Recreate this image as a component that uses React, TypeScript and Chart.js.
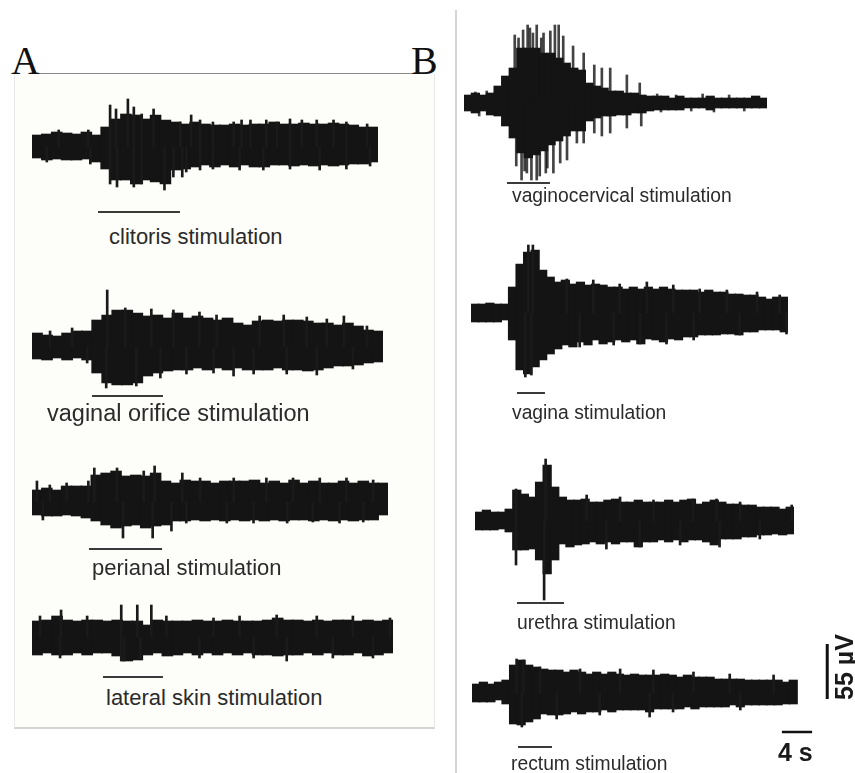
import React, { useEffect, useRef } from "react";
import { Chart, registerables } from "chart.js";
Chart.register(...registerables);

// ---------------- DATA (envelope amplitudes in µV per 1-s bin) ----------------
const traceLabels = [
  "clitoris stimulation",
  "vaginal orifice stimulation",
  "perianal stimulation",
  "lateral skin stimulation",
  "vaginocervical stimulation",
  "vagina stimulation",
  "urethra stimulation",
  "rectum stimulation",
];

const clitorisTop = [12,13,15,14,13,15,12,20,28,33,32,28,32,27,25,23,25,23,22,22,23,22,23,23,25,23,23,24,23,23,24,23,22,20,20];
const clitorisBottom = [-11,-13,-12,-13,-13,-12,-15,-22,-33,-33,-37,-33,-35,-37,-23,-22,-20,-18,-20,-18,-20,-18,-20,-20,-18,-18,-19,-18,-19,-18,-19,-18,-17,-17,-15];
const clitorisSpikeTimes = [7.9,8.5,9.7,10.3,11.1,12.3,16.1,22.1,26.1,31.8,7.9,8.6,10.3,11.1,13.4,14.3,15.2,
  2.7,5.7,15.0,17.0,18.3,20.4,21.2,23.7,24.8,27.3,28.8,30.5,33.9,
  1.5,5.9,15.6,17.0,18.3,21.0,23.4,26.1,29.1,31.8,34.2];
const clitorisSpikeValues = [42,38,48,40,33,38,32,27,28,25,-37,-40,-40,-37,-43,-30,-30,
  17,17,25,27,25,25,27,27,25,27,27,27,23,
  -15,-17,-25,-23,-22,-23,-23,-22,-23,-22,-19];
const clitorisStim = [6.68, 14.97];

const orificeTop = [14,12,11,14,16,16,27,32,37,37,34,31,32,29,34,29,31,29,27,29,24,22,26,27,26,27,27,26,24,24,22,24,21,17,16];
const orificeBottom = [-12,-13,-11,-13,-11,-13,-26,-36,-38,-38,-36,-29,-26,-24,-23,-23,-21,-23,-21,-23,-21,-23,-23,-23,-21,-23,-23,-24,-23,-21,-19,-19,-18,-16,-15];
const orificeSpikeTimes = [7.5,9.3,14.1,31.1,7.4,10.4,20.1,
  1.8,4.0,11.9,16.7,18.4,22.7,25.1,27.4,29.4,33.4,
  5.5,12.8,15.4,18.1,22.1,25.4,28.4,32.0];
const orificeSpikeValues = [57,39,37,31,-41,-39,-29,
  16,19,38,35,32,31,32,30,28,21,
  -16,-31,-27,-26,-27,-27,-28,-22];
const orificeStim = [5.98, 13.06];

const perianalTop = [12,14,12,16,16,16,27,29,31,26,27,26,29,21,19,22,21,21,19,21,21,21,22,19,21,19,22,19,21,19,19,21,19,21,19,19];
const perianalBottom = [-13,-14,-14,-13,-14,-16,-19,-23,-26,-24,-23,-26,-24,-23,-19,-19,-18,-19,-18,-19,-18,-19,-18,-19,-18,-19,-18,-18,-19,-18,-19,-18,-19,-18,-18,-13];
const perianalSpikeTimes = [0.5,5.7,6.3,8.6,11.3,12.4,15.2,9.2,12.2,14.1,
  1.8,3.5,17.0,20.4,23.7,26.4,29.1,31.8,34.5,
  1.1,15.6,19.7,22.4,25.8,28.4,31.1,33.5];
const perianalSpikeValues = [21,21,34,34,31,36,29,-36,-36,-29,
  17,19,24,24,24,24,24,24,22,
  -18,-21,-21,-21,-21,-20,-21,-20];
const perianalStim = [5.76, 13.15];

const lateralTop = [16,17,21,17,16,17,17,16,17,16,16,12,17,16,16,16,17,16,16,17,16,16,16,17,19,17,17,16,17,16,17,17,16,17,16,17];
const lateralBottom = [-18,-16,-18,-18,-16,-18,-16,-16,-19,-24,-23,-18,-16,-19,-18,-16,-18,-16,-18,-16,-18,-16,-18,-18,-19,-18,-18,-16,-18,-16,-18,-18,-16,-19,-18,-16];
const lateralSpikeTimes = [2.9,8.9,10.5,11.9,8.9,9.2,25.4,
  0.8,5.5,13.4,18.1,20.7,24.4,28.4,32.0,35.7,
  2.8,10.8,16.7,22.1,30.0,34.0];
const lateralSpikeValues = [27,32,32,32,-24,-24,-24,
  21,21,21,19,21,22,21,21,19,
  -21,-21,-21,-21,-21,-21];
const lateralStim = [7.08, 13.06];

const cervixTop = [8,10,8,10,17,27,35,55,55,55,50,50,45,40,35,33,20,17,15,12,12,10,10,8,7,7,7,5,7,5,5,5,7,5,5,5,5,5,7,5];
const cervixBottom = [-8,-10,-8,-12,-13,-23,-35,-50,-55,-52,-48,-42,-38,-33,-28,-28,-18,-15,-13,-13,-12,-12,-10,-10,-8,-7,-7,-7,-7,-5,-5,-5,-7,-5,-5,-5,-5,-5,-5,-5];
const cervixSpikeTimes = [6.7,7.2,7.8,8.4,8.7,9.1,9.6,10.2,10.5,11.4,12.0,12.5,13.1,14.4,15.8,17.2,18.2,19.3,21.5,23.2,
  6.9,7.6,8.0,8.3,8.9,9.6,10.0,10.8,11.0,11.8,12.7,13.6,14.9,15.8,17.2,18.2,19.3,21.5,23.4,
  1.5,3.0,25.5,28.0,31.5,35.0,2.0,26.0,30.0,33.0,37.0];
const cervixSpikeValues = [68,65,73,78,75,70,78,65,70,72,78,78,67,57,50,38,35,35,28,20,
  -63,-77,-68,-70,-77,-77,-73,-70,-65,-70,-60,-57,-40,-40,-30,-33,-30,-25,-23,
  11,12,9,8,9,8,-13,-9,-8,-9,-8];
const cervixStim = [5.68, 11.35];

const vaginaTop = [9,9,10,9,9,26,49,61,63,43,36,31,33,29,31,28,29,28,26,26,24,26,24,26,24,26,24,23,23,23,21,23,21,21,19,19,18,18,16,14,16,16];
const vaginaBottom = [-9,-9,-9,-9,-7,-27,-57,-61,-54,-47,-41,-36,-32,-34,-29,-32,-27,-31,-29,-27,-29,-27,-31,-26,-27,-29,-26,-27,-24,-24,-22,-22,-22,-21,-21,-22,-19,-19,-17,-17,-17,-19];
const vaginaSpikeTimes = [7.6,8.2,7.2,8.0,
  12.7,16.2,19.7,23.3,26.8,30.3,33.9,37.9,40.9,
  14.4,18.9,22.4,25.9,29.5,35.6,41.8];
const vaginaSpikeValues = [68,68,-64,-62,
  34,33,29,31,28,24,23,21,18,
  -34,-32,-31,-31,-27,-22,-21];
const vaginaStim = [6.09, 9.8];

const urethraTop = [9,11,9,9,12,31,27,24,39,56,34,24,21,21,22,19,19,21,22,19,19,21,19,19,19,21,19,21,22,17,19,21,19,17,17,16,16,14,14,14,12,14];
const urethraBottom = [-9,-9,-9,-8,-11,-29,-29,-28,-39,-53,-39,-23,-26,-24,-23,-21,-23,-21,-23,-21,-21,-26,-21,-21,-19,-21,-19,-21,-19,-19,-21,-24,-18,-18,-18,-16,-16,-14,-14,-13,-14,-13];
const urethraSpikeTimes = [5.4,9.3,5.4,9.1,32.2,
  14.7,19.1,23.5,28.7,31.8,34.9,41.7,
  17.3,21.7,27.0,37.5];
const urethraSpikeValues = [32,62,-44,-79,-26,
  26,24,21,22,22,19,16,
  -28,-26,-24,-18];
const urethraStim = [5.53, 11.72];

const rectumTop = [9,11,9,11,13,28,33,28,26,24,23,23,21,23,21,19,21,19,21,19,18,19,18,18,18,19,18,16,18,16,16,16,14,14,14,14,13,13,13,13,13,11,13];
const rectumBottom = [-9,-9,-9,-7,-11,-31,-32,-29,-26,-21,-22,-22,-21,-19,-21,-19,-19,-17,-19,-17,-17,-17,-17,-19,-16,-16,-16,-16,-14,-16,-14,-14,-14,-14,-12,-14,-12,-12,-12,-12,-12,-11,-11];
const rectumSpikeTimes = [5.9,6.8,6.6,23.5,
  9.0,14.3,19.6,24.0,29.3,34.1,39.9,
  11.2,16.9,26.6,35.5];
const rectumSpikeValues = [34,33,-34,-24,
  26,24,24,23,21,19,18,
  -26,-22,-19,-17];
const rectumStim = [6.09, 10.58];

const scaleBarSeconds = 4;
const scaleBarMicroVolts = 55;

// ---------------- LAYOUT (positions / sizes / styles) ----------------
type Layout = {
  left: number; cy: number; width: number; canvasWidth?: number;
  yMax: number; yMin: number; stimY: number;
  labelX: number; labelY: number; fontSize: number; spikeColor: string;
};
const layouts: Layout[] = [
  { left: 32, cy: 147, width: 346, yMax: 55, yMin: -72, stimY: -65, labelX: 109, labelY: 237, fontSize: 22, spikeColor: "#1a1a1a" },
  { left: 32, cy: 347, width: 351, yMax: 62, yMin: -55, stimY: -49, labelX: 47, labelY: 413, fontSize: 23.5, spikeColor: "#1a1a1a" },
  { left: 32, cy: 502, width: 356, yMax: 42, yMin: -53, stimY: -47, labelX: 92, labelY: 568, fontSize: 22, spikeColor: "#1a1a1a" },
  { left: 32, cy: 637, width: 361, yMax: 38, yMin: -46, stimY: -40, labelX: 106, labelY: 698, fontSize: 22, spikeColor: "#1a1a1a" },
  { left: 464, cy: 103, width: 303, yMax: 84, yMin: -86, stimY: -80, labelX: 512, labelY: 196, fontSize: 19.3, spikeColor: "rgba(20,20,20,0.8)" },
  { left: 471, cy: 313, width: 317, yMax: 72, yMin: -86, stimY: -80, labelX: 512, labelY: 413, fontSize: 19.3, spikeColor: "#1a1a1a" },
  { left: 475, cy: 521, width: 319, yMax: 66, yMin: -88, stimY: -82, labelX: 517, labelY: 623, fontSize: 19.3, spikeColor: "#1a1a1a" },
  { left: 472, cy: 693, width: 325, canvasWidth: 360, yMax: 54, yMin: -60, stimY: -54, labelX: 511, labelY: 764, fontSize: 19.3, spikeColor: "#1a1a1a" },
];

const traces = [
  { top: clitorisTop, bottom: clitorisBottom, spikeT: clitorisSpikeTimes, spikeV: clitorisSpikeValues, stim: clitorisStim },
  { top: orificeTop, bottom: orificeBottom, spikeT: orificeSpikeTimes, spikeV: orificeSpikeValues, stim: orificeStim },
  { top: perianalTop, bottom: perianalBottom, spikeT: perianalSpikeTimes, spikeV: perianalSpikeValues, stim: perianalStim },
  { top: lateralTop, bottom: lateralBottom, spikeT: lateralSpikeTimes, spikeV: lateralSpikeValues, stim: lateralStim },
  { top: cervixTop, bottom: cervixBottom, spikeT: cervixSpikeTimes, spikeV: cervixSpikeValues, stim: cervixStim },
  { top: vaginaTop, bottom: vaginaBottom, spikeT: vaginaSpikeTimes, spikeV: vaginaSpikeValues, stim: vaginaStim },
  { top: urethraTop, bottom: urethraBottom, spikeT: urethraSpikeTimes, spikeV: urethraSpikeValues, stim: urethraStim },
  { top: rectumTop, bottom: rectumBottom, spikeT: rectumSpikeTimes, spikeV: rectumSpikeValues, stim: rectumStim },
];

const SANS = '"Liberation Sans", Arial, Helvetica, sans-serif';

function Trace({ idx }: { idx: number }) {
  const ref = useRef<HTMLCanvasElement>(null);
  const L = layouts[idx];
  const T = traces[idx];
  const cw = L.canvasWidth ?? L.width;
  const ch = L.yMax - L.yMin;
  useEffect(() => {
    if (!ref.current) return;
    const n = T.top.length;
    const pps = L.width / n;
    const xMax = cw / pps;
    const datasets: any[] = [
      {
        type: "bar",
        data: T.top.map((hi, i) => ({ x: i + 0.5, y: [T.bottom[i], hi] })),
        backgroundColor: "#141414",
        barThickness: pps + 1,
        grouped: false,
        borderWidth: 0,
        order: 3,
      },
      {
        type: "bar",
        data: T.spikeT.map((t, k) => ({ x: t, y: [0, T.spikeV[k]] })),
        backgroundColor: L.spikeColor,
        barThickness: 2,
        grouped: false,
        borderWidth: 0,
        order: 2,
      },
      {
        type: "line",
        data: [{ x: T.stim[0], y: L.stimY }, { x: T.stim[1], y: L.stimY }],
        borderColor: "#3a3a3a",
        borderWidth: 2,
        pointRadius: 0,
        order: 1,
      },
    ];
    if (idx === 7) {
      const barEnd = 45.0;
      const vx = 47.0;
      datasets.push({
        type: "line",
        data: [{ x: barEnd - scaleBarSeconds, y: -39 }, { x: barEnd, y: -39 }],
        borderColor: "#111",
        borderWidth: 2.5,
        pointRadius: 0,
      });
      datasets.push({
        type: "line",
        data: [{ x: vx, y: -6 }, { x: vx, y: -6 + scaleBarMicroVolts }],
        borderColor: "#111",
        borderWidth: 3,
        pointRadius: 0,
      });
    }
    const chart = new Chart(ref.current, {
      type: "bar",
      data: { datasets },
      options: {
        animation: false,
        responsive: false,
        maintainAspectRatio: false,
        devicePixelRatio: 1,
        layout: { padding: 0 },
        plugins: { legend: { display: false }, tooltip: { enabled: false } },
        scales: {
          x: { type: "linear", min: 0, max: xMax, display: false, offset: false },
          y: { type: "linear", min: L.yMin, max: L.yMax, display: false },
        },
      } as any,
    });
    return () => chart.destroy();
  }, []);
  return (
    <>
      <canvas
        ref={ref}
        width={cw}
        height={ch}
        style={{ position: "absolute", left: L.left, top: L.cy - L.yMax, width: cw, height: ch }}
      />
      <div
        style={{
          position: "absolute",
          left: L.labelX,
          top: L.labelY - 15,
          height: 30,
          lineHeight: "30px",
          fontFamily: SANS,
          fontSize: L.fontSize,
          color: "#2b2b2b",
          whiteSpace: "nowrap",
        }}
      >
        {traceLabels[idx]}
      </div>
    </>
  );
}

export default function App() {
  return (
    <div
      style={{
        position: "absolute",
        left: 0,
        top: 0,
        width: 855,
        height: 773,
        background: "#ffffff",
        overflow: "hidden",
      }}
    >
      {/* panel A box */}
      <div
        style={{
          position: "absolute",
          left: 14,
          top: 74,
          width: 419,
          height: 653,
          background: "#fdfdf9",
          borderLeft: "1px solid #e8e8e8",
          borderRight: "1px solid #e8e8e8",
          borderBottom: "2px solid #d4d4d4",
        }}
      />
      <div style={{ position: "absolute", left: 40, top: 73, width: 372, height: 1, background: "#8a8a8a" }} />
      {/* separator */}
      <div style={{ position: "absolute", left: 455, top: 10, width: 2, height: 763, background: "#d4d4d4" }} />
      {/* panel letters */}
      <div style={{ position: "absolute", left: 11, top: 38, fontFamily: '"Liberation Serif", "Times New Roman", serif', fontSize: 40, lineHeight: "46px", color: "#111" }}>A</div>
      <div style={{ position: "absolute", left: 411, top: 38, fontFamily: '"Liberation Serif", "Times New Roman", serif', fontSize: 40, lineHeight: "46px", color: "#111" }}>B</div>
      {layouts.map((_, i) => (
        <Trace key={i} idx={i} />
      ))}
      {/* scale labels */}
      <div
        style={{
          position: "absolute",
          left: 844 - 40,
          top: 667 - 15,
          width: 80,
          height: 30,
          lineHeight: "30px",
          textAlign: "center",
          transform: "rotate(-90deg)",
          fontFamily: SANS,
          fontWeight: "bold",
          fontSize: 25,
          color: "#1a1a1a",
          whiteSpace: "nowrap",
        }}
      >
        {`${scaleBarMicroVolts} µV`}
      </div>
      <div
        style={{
          position: "absolute",
          left: 778,
          top: 752 - 15,
          height: 30,
          lineHeight: "30px",
          fontFamily: SANS,
          fontWeight: "bold",
          fontSize: 25,
          color: "#1a1a1a",
          whiteSpace: "nowrap",
        }}
      >
        {`${scaleBarSeconds} s`}
      </div>
    </div>
  );
}
